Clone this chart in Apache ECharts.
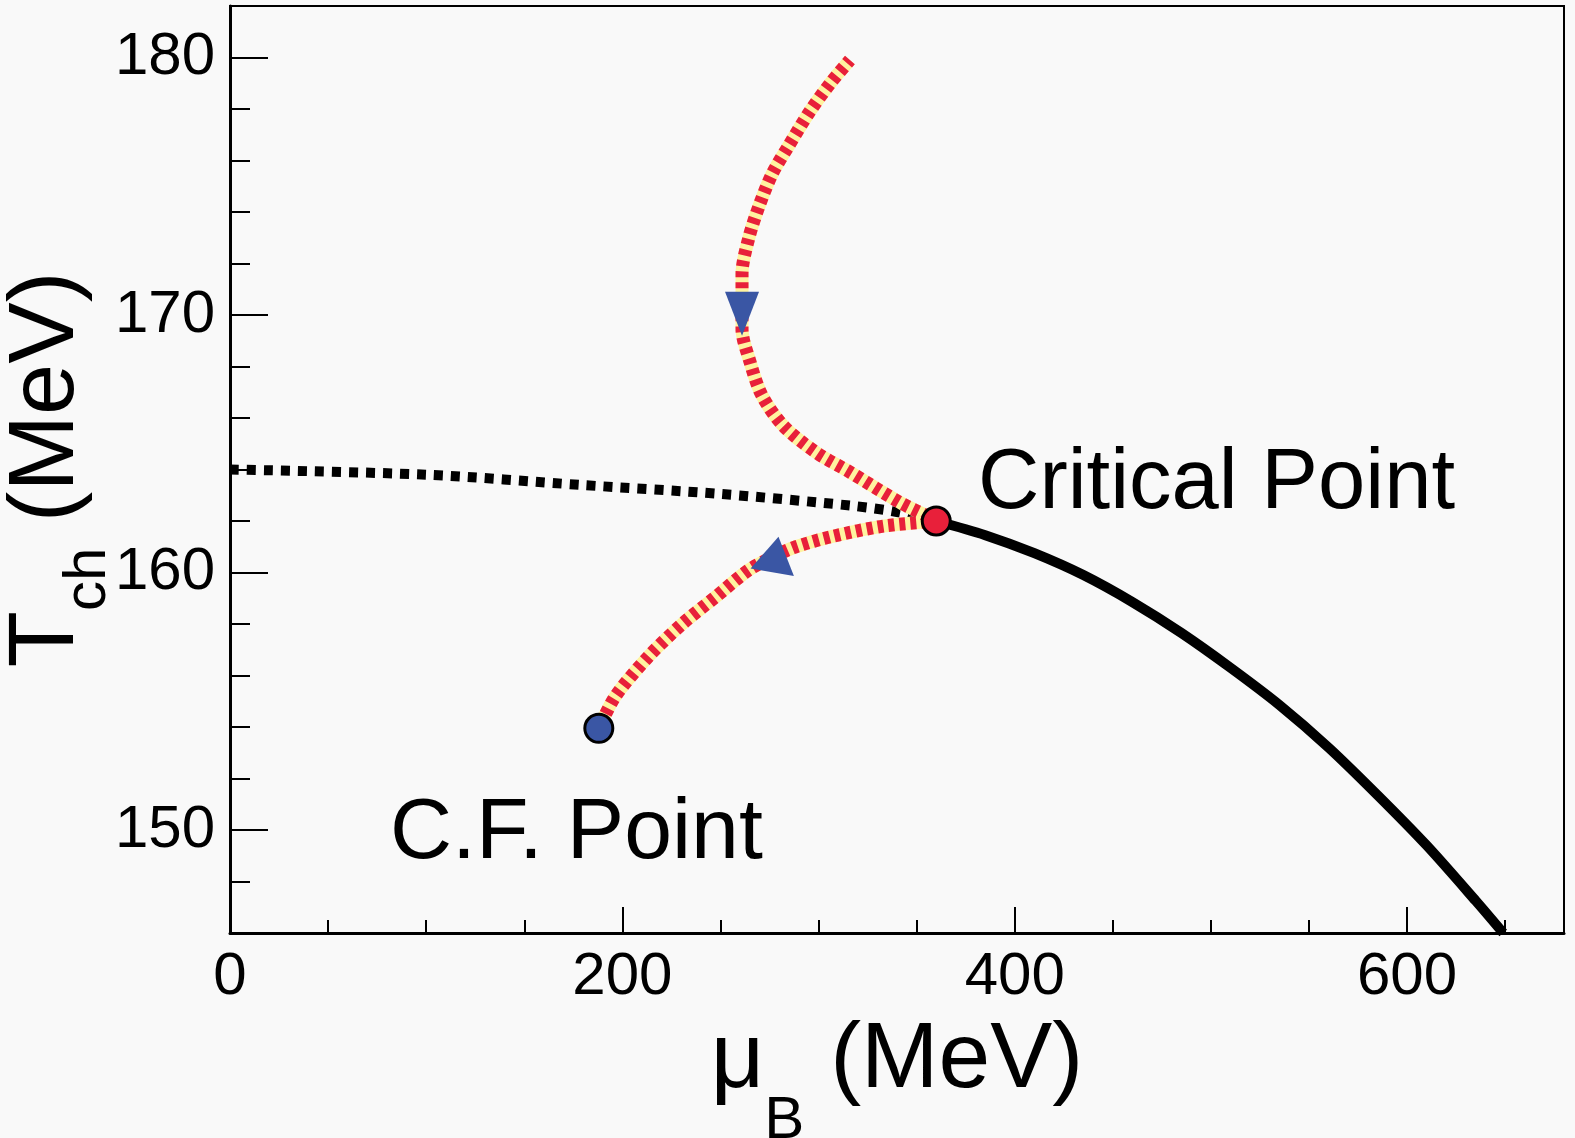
<!DOCTYPE html>
<html>
<head>
<meta charset="utf-8">
<script src="https://cdn.jsdelivr.net/npm/echarts@6/dist/echarts.min.js"></script>
<style>
html,body{margin:0;padding:0;background:#f9f9f9}
#chart{width:1575px;height:1138px}
</style>
</head>
<body>
<div id="chart"></div>
<script>
//数据 (mu_B, T_ch) in MeV
var crossover = [[0,164],[100,163.8],[179,163.4],[250,163.05],[316,162.6],[340,162.35],[360,162]];
var firstOrder = [[360,162],[385,161.45],[410,160.75],[435,159.9],[460,158.85],[485,157.65],[510,156.3],
                  [535,154.85],[560,153.2],[585,151.35],[610,149.4],[635,147.25],[649,146]];
var upperPath = [[361,162],[342,162.7],[316,163.9],[299,164.65],[282,165.7],[271,166.9],[265,168.2],[261,169.45],[261,170.1],
                 [261,171.6],[264.5,173],[270,174.3],[276.5,175.5],[285,176.6],[295.5,177.9],[306,179],[316,179.9]];
var lowerPath = [[361,162],[333,161.8],[307,161.4],[288.5,161],[278,160.65],[264.5,160.1],[247.5,159.05],[230.5,158],
                 [213.5,156.75],[196.5,155.2],[188,153.95]];
var criticalPoint = [[360,162]];
var cfPoint = [[188,153.95]];
var downMarker = [[261,170.05]];
var upMarker = [[278,160.7]];
//刻度
var xMajorTicks = [0,200,400,600];
var xMinorTicks = [50,100,150,250,300,350,450,500,550,650];
var yMajorTicks = [150,160,170,180];
var yMinorTicks = [148,152,154,156,158,162,164,166,168,172,174,176,178];

var FONT = '"Liberation Sans", Arial, Helvetica, sans-serif';
var chart = echarts.init(document.getElementById('chart'));

function lineSeries(data, color, width, type, z) {
    return {
        type: 'line', data: data, smooth: 0.3, showSymbol: false, symbol: 'none',
        silent: true, z: z, animation: false,
        lineStyle: {color: color, width: width, type: type, cap: 'butt'}
    };
}
function markerSeries(data, symbol, size, color, border, rotate) {
    return {
        type: 'scatter', data: data, symbol: symbol, symbolSize: size, symbolRotate: rotate || 0,
        silent: true, z: 10, animation: false,
        itemStyle: {color: color, borderColor: '#000', borderWidth: border, opacity: 1}
    };
}

var option = {
    backgroundColor: '#f9f9f9',
    animation: false,
    grid: {left: 230, right: 11, top: 6, bottom: 205, containLabel: false, outerBoundsMode: 'none',
           show: true, borderColor: '#000', borderWidth: 2, backgroundColor: 'transparent'},
    xAxis: [{
        type: 'value', min: 0, max: 680, position: 'bottom',
        name: '{a|μ}{b|B}{a| (MeV)}', nameLocation: 'middle', nameGap: 38,
        nameTextStyle: {rich: {
            a: {fontSize: 93, fontFamily: FONT, color: '#000', lineHeight: 180},
            b: {fontSize: 60, fontFamily: FONT, color: '#000', verticalAlign: 'bottom'}
        }},
        axisLine: {show: true, lineStyle: {color: '#000', width: 3}},
        axisTick: {show: true, inside: true, length: 26, customValues: xMajorTicks, lineStyle: {color: '#000', width: 2}},
        axisLabel: {customValues: xMajorTicks, fontSize: 60, fontFamily: FONT, color: '#000', margin: 14},
        splitLine: {show: false}
    }, {
        type: 'value', min: 0, max: 680, position: 'bottom',
        axisLine: {show: false},
        axisTick: {show: true, inside: true, length: 13, customValues: xMinorTicks, lineStyle: {color: '#000', width: 2}},
        axisLabel: {show: false},
        splitLine: {show: false}
    }],
    yAxis: [{
        type: 'value', min: 146, max: 182, position: 'left',
        name: '{a|T}{b|ch}{a| (MeV)}', nameLocation: 'middle', nameGap: 112, nameRotate: 90, nameMoveOverlap: false,
        nameTextStyle: {rich: {
            a: {fontSize: 92, fontFamily: FONT, color: '#000', lineHeight: 140},
            b: {fontSize: 60, fontFamily: FONT, color: '#000', verticalAlign: 'bottom'}
        }},
        axisLine: {show: true, lineStyle: {color: '#000', width: 3}},
        axisTick: {show: true, inside: true, length: 38, customValues: yMajorTicks, lineStyle: {color: '#000', width: 2}},
        axisLabel: {customValues: yMajorTicks, fontSize: 60, fontFamily: FONT, color: '#000', margin: 15},
        splitLine: {show: false}
    }, {
        type: 'value', min: 146, max: 182, position: 'left',
        axisLine: {show: false},
        axisTick: {show: true, inside: true, length: 20, customValues: yMinorTicks, lineStyle: {color: '#000', width: 2}},
        axisLabel: {show: false},
        splitLine: {show: false}
    }],
    series: [
        lineSeries(crossover, '#000', 10, [9, 8], 2),
        lineSeries(firstOrder, '#000', 10, 'solid', 2),
        lineSeries(upperPath, '#fff3a0', 13, 'solid', 3),
        lineSeries(lowerPath, '#fff3a0', 13, 'solid', 3),
        lineSeries(upperPath, '#e8203a', 13, [6, 5], 4),
        lineSeries(lowerPath, '#e8203a', 13, [6, 5], 4),
        markerSeries(criticalPoint, 'circle', 28, '#e8203a', 3),
        markerSeries(cfPoint, 'circle', 28, '#3a56a4', 3),
        markerSeries(downMarker, 'triangle', [34, 44], '#3a56a4', 0, 180),
        markerSeries(upMarker, 'triangle', [44, 36], '#3a56a4', 0, -10)
    ],
    graphic: [
        {type: 'text', left: 978, top: 442, z: 20, style: {text: 'Critical Point', font: '85px ' + FONT, fill: '#000'}},
        {type: 'text', left: 390, top: 791, z: 20, style: {text: 'C.F. Point', font: '86px ' + FONT, fill: '#000'}}
    ]
};
//初始化chart
chart.setOption(option);
</script>
</body>
</html>
